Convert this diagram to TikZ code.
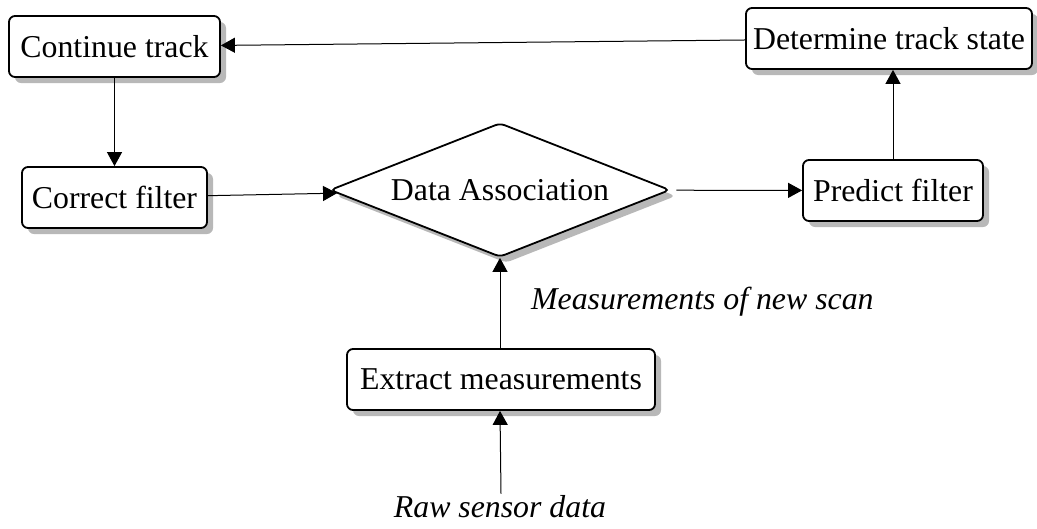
\documentclass[tikz,border=0pt]{standalone}
\usepackage{fontspec}
\setmainfont{Liberation Serif}
\usetikzlibrary{shapes.geometric,shadows,arrows.meta}

\tikzset{
  shade/.style={drop shadow={shadow xshift=6pt, shadow yshift=-6pt, fill=black!28, opacity=1}},
  stepbox/.style={draw, line width=1.8pt, rounded corners=6pt, fill=white, shade,
    minimum height=61pt, inner sep=0pt, font=\fontsize{31.8}{38}\selectfont},
  decision/.style={draw, diamond, aspect=2.54, line width=1.8pt, rounded corners=5pt, fill=white, shade,
    minimum width=340pt, minimum height=134pt, inner sep=0pt, font=\fontsize{31.8}{38}\selectfont},
  note/.style={font=\fontsize{31.8}{38}\selectfont\itshape, inner sep=2pt},
  flow/.style={line width=1pt, -{Triangle[length=14pt, width=15pt]}}
}

\begin{document}
\begin{tikzpicture}[x=1pt, y=-1pt]
  \useasboundingbox (0,0) rectangle (1037,528);

  % process steps
  \node[stepbox, minimum width=211pt] (cont) at (114.5,46.5) {Continue track};
  \node[stepbox, minimum width=185pt] (corr) at (114.5,197.5) {Correct filter};
  \node[decision] (assoc) at (500,190) {Data Association};
  \node[stepbox, minimum width=180pt] (pred) at (893,190.5) {Predict filter};
  \node[stepbox, minimum width=286pt] (det) at (889,38.5) {Determine track state};
  \node[stepbox, minimum width=308pt] (extr) at (501,379.5) {Extract measurements};

  % input and label
  \node[note] (raw) at (500,507) {Raw sensor data};
  \node[note, anchor=west] (meas) at (529,302) {Measurements of new scan};

  % connectors
  \draw[flow] (det) -- (cont);
  \draw[flow] (cont) -- (corr);
  \draw[flow] (corr) -- (assoc);
  \draw[flow, shorten <=6pt] (assoc) -- (pred);
  \draw[flow] (pred.north) -- (pred.north |- det.south);
  \draw[flow] (extr.north -| assoc.south) -- (assoc.south);
  \draw[flow] (raw.north -| extr.south) -- (extr.south -| raw.north);
\end{tikzpicture}
\end{document}
